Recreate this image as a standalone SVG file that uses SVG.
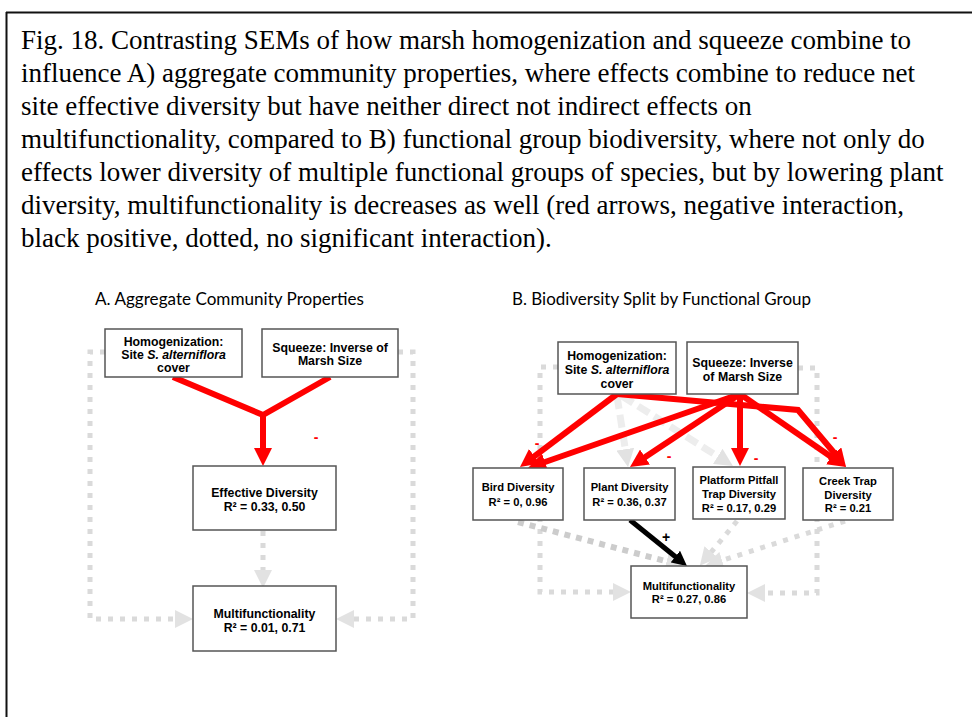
<svg xmlns="http://www.w3.org/2000/svg" width="972" height="717" viewBox="0 0 972 717">
<style>
.cap{font-family:"Liberation Serif","Times New Roman",serif;font-size:27px;fill:#000}
.ttl{font-family:Lato,"Liberation Sans",sans-serif;font-size:16.5px;fill:#000}
.box{fill:#fff;stroke:#555;stroke-width:1.5}
.t{font-family:"Liberation Sans",Arial,sans-serif;font-weight:bold;font-size:12.3px;text-anchor:middle;fill:#000}
.ts{font-family:"Liberation Sans",Arial,sans-serif;font-weight:bold;font-size:11.2px;text-anchor:middle;fill:#000}
.red{fill:none;stroke:#ff0000;stroke-width:6;stroke-linejoin:miter}
.blk{fill:none;stroke:#000;stroke-width:5}
.dot{fill:none;stroke:#dadada;stroke-width:5;stroke-dasharray:5 7}
.dot2{fill:none;stroke:#cccccc;stroke-width:6;stroke-dasharray:6 6}
.dash{fill:none;stroke:#ededed;stroke-width:7;stroke-dasharray:13 6}
.sig{font-family:"Liberation Sans",Arial,sans-serif;font-size:14px;font-weight:bold;text-anchor:middle}
</style>
<defs>
<marker id="ar" viewBox="0 0 18 18" refX="6" refY="9" markerWidth="18" markerHeight="18" markerUnits="userSpaceOnUse" orient="auto"><path d="M0,0L18,9L0,18z" fill="#ff0000"/></marker>
<marker id="ag" viewBox="0 0 18 18" refX="6" refY="9" markerWidth="18" markerHeight="18" markerUnits="userSpaceOnUse" orient="auto"><path d="M0,0L18,9L0,18z" fill="#e2e2e2"/></marker>
<marker id="ab" viewBox="0 0 15 15" refX="5" refY="7.5" markerWidth="15" markerHeight="15" markerUnits="userSpaceOnUse" orient="auto"><path d="M0,0L15,7.5L0,15z" fill="#000"/></marker>
</defs>
<rect width="972" height="717" fill="#fff"/>
<g id="frame">
<line x1="6" y1="12.5" x2="972" y2="12.5" stroke="#111" stroke-width="2"/>
<line x1="6.5" y1="12" x2="6.5" y2="717" stroke="#111" stroke-width="2"/>
</g>
<g id="caption">
<text class="cap" x="21" y="49">Fig. 18. Contrasting SEMs of how marsh homogenization and squeeze combine to</text>
<text class="cap" x="21" y="82">influence A) aggregate community properties, where effects combine to reduce net</text>
<text class="cap" x="21" y="115">site effective diversity but have neither direct not indirect effects on</text>
<text class="cap" x="21" y="148">multifunctionality, compared to B) functional group biodiversity, where not only do</text>
<text class="cap" x="21" y="181">effects lower diversity of multiple functional groups of species, but by lowering plant</text>
<text class="cap" x="21" y="214">diversity, multifunctionality is decreases as well (red arrows, negative interaction,</text>
<text class="cap" x="21" y="247">black positive, dotted, no significant interaction).</text>
</g>
<g id="titles">
<text class="ttl" x="95" y="305" textLength="269" lengthAdjust="spacingAndGlyphs">A. Aggregate Community Properties</text>
<text class="ttl" x="512" y="305" textLength="299" lengthAdjust="spacingAndGlyphs">B. Biodiversity Split by Functional Group</text>
</g>
<g id="connectors">
<!-- Panel A -->
<path class="dot" d="M105,352H90V619H181" marker-end="url(#ag)"/>
<path class="dot" d="M398,352H413V619H348" marker-end="url(#ag)"/>
<path class="dot" d="M263,531V576" marker-end="url(#ag)"/>
<path class="red" d="M173,377L263,415L330,377"/>
<path class="red" d="M263,413V454" marker-end="url(#ar)"/>
<text class="sig" x="316" y="442" fill="#ff0000">-</text>
<!-- Panel B grey -->
<path class="dot" d="M558,367H540V592H619" marker-end="url(#ag)"/>
<path class="dot" d="M798,368H817V593H759" marker-end="url(#ag)"/>
<path class="dot2" d="M518,522L672.4,562.9" marker-end="url(#ag)"/>
<path class="dot" d="M737,521L707.5,556.6" marker-end="url(#ag)"/>
<path class="dot" d="M845,521L716.4,562.3" marker-end="url(#ag)"/>
<path class="dash" d="M617,396L626.2,455.1" marker-end="url(#ag)"/>
<path class="dash" d="M622,396L722.8,459.6" marker-end="url(#ag)"/>
<!-- Panel B red -->
<path class="red" d="M617,394L529.6,459.8" marker-end="url(#ar)"/>
<path class="red" d="M740,394L539.3,464" marker-end="url(#ar)"/>
<path class="red" d="M740,394L640,460.4" marker-end="url(#ar)"/>
<path class="red" d="M740,394V454" marker-end="url(#ar)"/>
<path class="red" d="M740,394L836.1,460.2" marker-end="url(#ar)"/>
<path class="red" d="M617,394L798,410L838.3,457.8" marker-end="url(#ar)"/>
<path class="blk" d="M630,520L679.2,559.7" marker-end="url(#ab)"/>
<text class="sig" x="537" y="448" fill="#ff0000">-</text>
<text class="sig" x="669" y="461" fill="#ff0000">-</text>
<text class="sig" x="756" y="463" fill="#ff0000">-</text>
<text class="sig" x="835" y="442" fill="#ff0000">-</text>
<text class="sig" x="666" y="542" fill="#000" font-size="11" font-weight="normal">+</text>
</g>
<g id="a-homog">
<rect class="box" x="105" y="329" width="137" height="48"/>
<text class="t" x="173.5" y="345.5">Homogenization:</text>
<text class="t" x="173.5" y="358.5">Site <tspan font-style="italic">S. alterniflora</tspan></text>
<text class="t" x="173.5" y="371.5">cover</text>
</g>
<g id="a-squeeze">
<rect class="box" x="262" y="329" width="136" height="48"/>
<text class="t" x="330" y="351.5">Squeeze: Inverse of</text>
<text class="t" x="330" y="364.5">Marsh Size</text>
</g>
<g id="a-effective">
<rect class="box" x="193" y="466" width="143" height="64"/>
<text class="t" x="264.5" y="496.5">Effective Diversity</text>
<text class="t" x="264.5" y="510.5">R² = 0.33, 0.50</text>
</g>
<g id="a-multi">
<rect class="box" x="193" y="586" width="143" height="65"/>
<text class="t" x="264.5" y="617.5">Multifunctionality</text>
<text class="t" x="264.5" y="631.5">R² = 0.01, 0.71</text>
</g>
<g id="b-homog">
<rect class="box" x="558" y="342" width="118" height="52"/>
<text class="t" x="617" y="359.5">Homogenization:</text>
<text class="t" x="617" y="373.5">Site <tspan font-style="italic">S. alterniflora</tspan></text>
<text class="t" x="617" y="387.5">cover</text>
</g>
<g id="b-squeeze">
<rect class="box" x="687" y="342" width="111" height="52"/>
<text class="t" x="742.5" y="366.5">Squeeze: Inverse</text>
<text class="t" x="742.5" y="380.5">of Marsh Size</text>
</g>
<g id="b-bird">
<rect class="box" x="473" y="468" width="90" height="52"/>
<text class="ts" x="518" y="491">Bird Diversity</text>
<text class="ts" x="518" y="506">R² = 0, 0.96</text>
</g>
<g id="b-plant">
<rect class="box" x="584" y="468" width="91" height="52"/>
<text class="ts" x="629.5" y="491">Plant Diversity</text>
<text class="ts" x="629.5" y="506">R² = 0.36, 0.37</text>
</g>
<g id="b-platform">
<rect class="box" x="693" y="467" width="92" height="52"/>
<text class="ts" x="739" y="484">Platform Pitfall</text>
<text class="ts" x="739" y="498">Trap Diversity</text>
<text class="ts" x="739" y="512">R² = 0.17, 0.29</text>
</g>
<g id="b-creek">
<rect class="box" x="803" y="468" width="90" height="52"/>
<text class="ts" x="848" y="485">Creek Trap</text>
<text class="ts" x="848" y="499">Diversity</text>
<text class="ts" x="848" y="512">R² = 0.21</text>
</g>
<g id="b-multi">
<rect class="box" x="631" y="566" width="116" height="52"/>
<text class="ts" x="689" y="590">Multifunctionality</text>
<text class="ts" x="689" y="603">R² = 0.27, 0.86</text>
</g>
</svg>
